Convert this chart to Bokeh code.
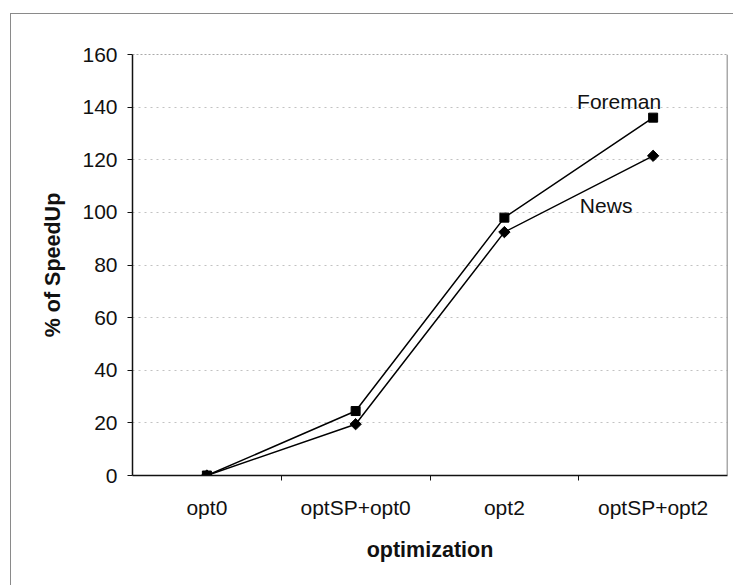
from math import pi

from bokeh.plotting import figure
from bokeh.models import Range1d, FixedTicker, Label, Span
from bokeh.embed import file_html
from bokeh.resources import INLINE

# Speed-up (%) per optimisation setting for two test sequences
categories = ["opt0", "optSP+opt0", "opt2", "optSP+opt2"]
foreman = [0, 24.5, 98, 136]
news = [0, 19.5, 92.5, 121.5]
y_ticks = [0, 20, 40, 60, 80, 100, 120, 140, 160]

# one unit per category, points sit in the middle of each slot
xs = [i + 0.5 for i in range(len(categories))]
slot_edges = [i for i in range(1, len(categories))]

FONT = "Liberation Sans"
INK = "#111111"

p = figure(
    width=723, height=572,
    output_backend="svg", toolbar_location=None,
    x_range=Range1d(0, len(categories)),
    y_range=Range1d(y_ticks[0], y_ticks[-1]),
    min_border_left=121, min_border_right=7,
    min_border_top=40, min_border_bottom=111,
    background_fill_color="white", border_fill_color="white",
)
# the chart area's own frame: thin grey line on the left and top
p.styles = {
    "margin-left": "10px", "margin-top": "13px",
    "border-left": "1px solid #8a8a8a", "border-top": "1px solid #8a8a8a",
}
p.title.visible = False
p.outline_line_color = None

# value axis
p.yaxis.ticker = FixedTicker(ticks=y_ticks)
p.yaxis.axis_line_color = INK
p.yaxis.axis_line_width = 1.5
p.yaxis.major_tick_out = 5
p.yaxis.major_tick_in = 0
p.yaxis.major_tick_line_color = INK
p.yaxis.minor_tick_out = 0
p.yaxis.minor_tick_in = 0
p.yaxis.major_label_standoff = 10
p.yaxis.major_label_text_font = FONT
p.yaxis.major_label_text_font_size = "21px"
p.yaxis.major_label_text_color = INK
p.yaxis.axis_label = "% of SpeedUp"
p.yaxis.axis_label_text_font = FONT
p.yaxis.axis_label_text_font_size = "21.5px"
p.yaxis.axis_label_text_font_style = "bold"
p.yaxis.axis_label_text_color = INK
p.yaxis.axis_label_standoff = 14

# category axis: labels in the slot centres, tick marks on the slot edges
p.xaxis.ticker = FixedTicker(ticks=xs, minor_ticks=slot_edges)
p.xaxis.major_label_overrides = {x: c for x, c in zip(xs, categories)}
p.xaxis.axis_line_color = INK
p.xaxis.axis_line_width = 1.5
p.xaxis.major_tick_out = 0
p.xaxis.major_tick_in = 0
p.xaxis.minor_tick_out = 5
p.xaxis.minor_tick_in = 0
p.xaxis.minor_tick_line_color = INK
p.xaxis.major_label_standoff = 15
p.xaxis.major_label_text_font = FONT
p.xaxis.major_label_text_font_size = "21px"
p.xaxis.major_label_text_color = INK
p.xaxis.axis_label = "optimization"
p.xaxis.axis_label_text_font = FONT
p.xaxis.axis_label_text_font_size = "21.5px"
p.xaxis.axis_label_text_font_style = "bold"
p.xaxis.axis_label_text_color = INK
p.xaxis.axis_label_standoff = 16

# dotted horizontal grid
p.xgrid.visible = False
p.ygrid.ticker = FixedTicker(ticks=y_ticks[1:-1])
p.ygrid.grid_line_color = "#9a9a9a"
p.ygrid.grid_line_dash = "2 4"
p.ygrid.grid_line_alpha = 0.6

# plot-area top edge (dotted) and right edge (solid)
p.add_layout(Span(location=y_ticks[-1], dimension="width",
                  line_color="#555555", line_dash="2 2", line_width=1))
p.add_layout(Span(location=len(categories), dimension="height",
                  line_color="#555555", line_width=1.5))

# series
p.line(xs, news, line_color="black", line_width=1.5)
p.scatter(xs, news, marker="square", angle=pi / 4, size=8,
          fill_color="black", line_color="black")
p.line(xs, foreman, line_color="black", line_width=1.5)
p.scatter(xs, foreman, marker="square", size=9,
          fill_color="black", line_color="black")

# series names next to the last points
p.add_layout(Label(x=xs[-1], y=foreman[-1], text="Foreman",
                   x_offset=-34, y_offset=16,
                   text_align="center", text_baseline="middle",
                   text_font=FONT, text_font_size="21px", text_color=INK))
p.add_layout(Label(x=xs[-1], y=news[-1], text="News",
                   x_offset=-47, y_offset=-50,
                   text_align="center", text_baseline="middle",
                   text_font=FONT, text_font_size="21px", text_color=INK))

open("out.html", "w").write(file_html(p, INLINE))
